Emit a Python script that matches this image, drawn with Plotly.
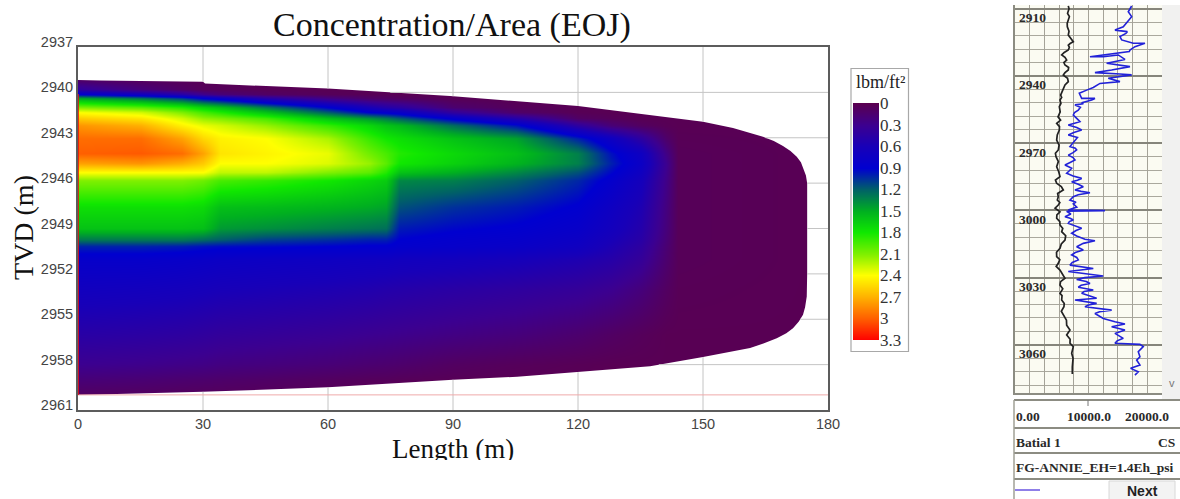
import numpy as np
import plotly.graph_objects as go

W, H = 1180, 499

# ---------- main chart data ----------
title_text = "Concentration/Area (EOJ)"
length_stations = [0, 15, 25, 30, 34, 45, 60, 70, 74, 77, 90, 105, 120, 128, 135, 141, 144, 176]
depth_stations = [2939, 2939.8, 2940.1, 2940.4, 2941, 2941.3, 2941.7, 2942.2, 2943, 2944, 2944.7,
                  2945.3, 2945.8, 2947.6, 2949, 2949.7, 2950.2, 2951, 2953, 2956, 2958, 2959, 2960.5]
col_0 = [.02, .4, .9, 1.5, 2.1, 2.4, 2.6, 2.8, 2.95, 3.0, 2.75, 2.4, 2.1, 1.75, 1.6, 1.3, 1.0, .82, .68, .46, .3, .18, .03]
col_15 = [.02, .2, .7, 1.3, 2.0, 2.3, 2.5, 2.7, 2.95, 3.02, 2.8, 2.4, 2.1, 1.75, 1.6, 1.3, 1.0, .82, .66, .44, .28, .16, .03]
col_25 = [.02, .1, .5, 1.1, 1.85, 2.1, 2.3, 2.45, 2.75, 2.95, 2.7, 2.4, 2.1, 1.75, 1.6, 1.3, .98, .8, .64, .42, .26, .14, .02]
col_30 = [.02, .05, .3, .9, 1.7, 1.95, 2.15, 2.35, 2.55, 2.75, 2.6, 2.4, 2.05, 1.72, 1.58, 1.25, .95, .78, .62, .4, .25, .13, .02]
col_34 = [.02, .05, .2, .8, 1.6, 1.85, 2.1, 2.3, 2.45, 2.5, 2.4, 2.25, 1.95, 1.58, 1.42, 1.2, .93, .76, .6, .38, .23, .12, .02]
col_45 = [.02, .03, .1, .5, 1.3, 1.6, 1.95, 2.15, 2.4, 2.44, 2.4, 2.25, 1.9, 1.56, 1.38, 1.1, .92, .74, .58, .36, .21, .1, .02]
col_60 = [.02, .02, .05, .25, .9, 1.2, 1.6, 1.9, 2.2, 2.35, 2.32, 2.1, 1.8, 1.52, 1.32, 1.05, .9, .72, .55, .33, .18, .07, .02]
col_70 = [.02, .02, .03, .12, .6, .9, 1.4, 1.7, 1.9, 2.05, 2.15, 2.0, 1.7, 1.48, 1.28, 1.0, .88, .7, .52, .3, .15, .05, .02]
col_74 = [.02, .02, .03, .1, .5, .85, 1.3, 1.6, 1.8, 1.95, 2.0, 1.85, 1.65, 1.45, 1.26, 1.0, .88, .7, .5, .29, .14, .05, .02]
col_77 = [.02, .02, .02, .08, .45, .8, 1.2, 1.55, 1.75, 1.85, 1.8, 1.6, 1.35, 1.15, .98, .9, .85, .68, .49, .28, .13, .04, .02]
col_90 = [.02, .02, .02, .03, .15, .4, .85, 1.25, 1.6, 1.72, 1.68, 1.5, 1.32, 1.05, .92, .85, .82, .66, .45, .24, .08, .03, .02]
col_105 = [.02, .02, .02, .02, .05, .12, .5, .95, 1.45, 1.58, 1.52, 1.35, 1.2, .98, .88, .82, .78, .62, .41, .2, .05, .02, .02]
col_120 = [.02, .02, .02, .02, .02, .03, .1, .42, 1.0, 1.32, 1.32, 1.15, 1.02, .88, .8, .74, .7, .55, .36, .14, .03, .02, .02]
col_128 = [.02, .02, .02, .02, .02, .02, .05, .18, .72, .95, 1.0, .92, .84, .72, .66, .6, .56, .48, .3, .09, .02, .02, .02]
col_135 = [.02, .02, .02, .02, .02, .02, .02, .08, .42, .72, .76, .7, .64, .55, .5, .46, .42, .36, .2, .05, .02, .02, .02]
col_141 = [.02, .02, .02, .02, .02, .02, .02, .03, .12, .25, .3, .28, .26, .22, .2, .18, .16, .14, .08, .02, .02, .02, .02]
col_144 = [.02, .02, .02, .02, .02, .02, .02, .02, .03, .04, .04, .04, .04, .04, .04, .04, .04, .04, .03, .02, .02, .02, .02]
col_176 = [.02, .02, .02, .02, .02, .02, .02, .02, .02, .02, .02, .02, .02, .02, .02, .02, .02, .02, .02, .02, .02, .02, .02]
columns = [col_0, col_15, col_25, col_30, col_34, col_45, col_60, col_70, col_74, col_77, col_90,
           col_105, col_120, col_128, col_135, col_141, col_144, col_176]
conc = np.array(columns).T

# outline of the plume
top_len = [0, 5.3, 30, 30.5, 60, 89.3, 120, 131.7, 141, 150, 157.2, 160.8, 164.4, 167, 169.2, 171, 172.5, 173.5, 174, 174.7, 175]
top_depth = [2939.18, 2939.22, 2939.3, 2939.42, 2939.75, 2940.24, 2940.9, 2941.34, 2941.63, 2941.94,
             2942.35, 2942.62, 2942.93, 2943.22, 2943.55, 2943.88, 2944.25, 2944.62, 2945, 2945.5, 2946]
bot_len = [175, 174.9, 174.5, 174, 173, 171.6, 170, 167.7, 164.5, 161.3, 150, 137.3, 120, 105.4, 90, 60, 30, 0]
bot_depth = [2952, 2953.5, 2954.2, 2954.7, 2955.15, 2955.6, 2955.92, 2956.25, 2956.6, 2956.9, 2957.5, 2958.1, 2958.5, 2958.8, 2959, 2959.5, 2959.8, 2960]

x_ticks = [0, 30, 60, 90, 120, 150, 180]
y_ticks = [2937, 2940, 2943, 2946, 2949, 2952, 2955, 2958, 2961]

scale_values = [0, 0.3, 0.6, 0.9, 1.2, 1.5, 1.8, 2.1, 2.4, 2.7, 3, 3.3]
scale_colors = ["#5a0050", "#3c0090", "#1800b8", "#0000d0", "#006068", "#00b020",
                "#10e800", "#80f000", "#ffff00", "#ffb000", "#ff6000", "#ff0000"]
scale_labels = ["0", "0.3", "0.6", "0.9", "1.2", "1.5", "1.8", "2.1", "2.4", "2.7", "3", "3.3"]

# ---------- well-log panel data ----------
blue_depth = [2908.75, 2911.3, 2913.5, 2915.7, 2918, 2919.5, 2920.2, 2921, 2922.4, 2923.9, 2925.4, 2925.4, 2926.9, 2928.4, 2929.1,
              2931.4, 2931.4, 2930.6, 2932.6, 2934.3, 2935.1, 2935.8, 2937.3, 2938.5, 2939.1, 2939.5, 2941, 2942.5, 2943.3, 2945.1, 2946.3, 2947.7, 2950, 2950,
              2950.7, 2951.9, 2952.4, 2952.9, 2954, 2955.2, 2956.3, 2957.4, 2958.9, 2960.4, 2961.1, 2961.9, 2963, 2964.1, 2965.2, 2966.3, 2967.4, 2968.6, 2970, 2971.5, 2972.2, 2973, 2974.2, 2975.3, 2976.4, 2977.5, 2978.6, 2979.7, 2980.5, 2981.2, 2982.3, 2983.4, 2984.6, 2985.7, 2986.5, 2987.2, 2988.3, 2989.4, 2990.2, 2990.9, 2991.5, 2992.1, 2993, 2993.9,
              2995.4, 2996.3, 2997.1, 2998.5, 2999.8, 3000.1, 3000.4, 3001.6, 3002.8, 3003.5, 3004.3, 3005, 3005.8, 3007, 3008, 3009, 3010.2, 3011.4, 3012.9, 3013.5, 3014.7, 3016.2, 3017, 3017.7, 3018.8, 3019.9, 3021, 3022.1, 3023.2, 3024.4, 3025.9, 3026.6, 3027.3, 3029.3, 3030, 3030.8, 3031.7, 3032.6, 3033.4, 3034.3, 3035.5, 3036.2, 3037, 3038, 3039.2,
              3040, 3041.5, 3042.2, 3043, 3044.5, 3045.2, 3046, 3048.2, 3049.7, 3050.7, 3051.9, 3053.4, 3054.9, 3056, 3057.1, 3058.2, 3059.3, 3059.8, 3060.8, 3063.1, 3065.3, 3066.8, 3069, 3070.5, 3072, 3073.5]
blue_value = [15870, 15410, 15870, 15280, 14730, 13600, 15280, 15090, 14280, 14510, 16090, 17680, 16320, 15640, 15550,
              10200, 12010, 14050, 14960, 12470, 14050, 15640, 13150, 10880, 14280, 15870, 12690, 14280, 11560, 10650, 9750, 8750, 9070, 10880,
              10430, 9070, 9300, 8160, 8900, 8610, 8100, 7930, 8400, 8840, 8100, 7250, 8400, 9070, 8000, 7250, 8500, 8160, 7900, 7480, 8200, 8390, 7900, 7250, 7900, 8160, 7500, 6800, 7300, 7710, 7400, 7030, 7900, 9070, 8500, 7710, 8600, 9290, 8700, 8160, 9000, 10200, 8600, 7930,
              7480, 8300, 7930, 8400, 7250, 12240, 7030, 7600, 6800, 7500, 7930, 7400, 7250, 8300, 9070, 8300, 7710, 8390, 9520, 10880, 9290, 8390, 8800, 9290, 8200, 7710, 8400, 8610, 7800, 7480, 10650, 8600, 7250, 12010, 9500, 8390, 9700, 10200, 9000, 8610, 10650, 9400, 9070, 10000, 11110,
              8160, 11110, 10000, 9520, 13150, 11500, 10880, 12010, 13600, 14960, 13150, 14960, 13600, 14200, 14730, 13900, 13600, 17000, 17450, 16770, 17000, 16550, 17000, 15730, 16770, 16320]
black_depth = [2908.7, 2910, 2912, 2913.5, 2915, 2916.5, 2918, 2920, 2921.7, 2923.5, 2924.7, 2925.5, 2926.2, 2927.2, 2928.4, 2929.5, 2930.6, 2931.7, 2932.9, 2934, 2935.1, 2936.2, 2937.3, 2938.5, 2939.6, 2941, 2942.5, 2944, 2945.5, 2947, 2948.5, 2949.6, 2950.7,
               2952.2, 2953.7, 2956, 2958.2, 2959.7, 2961.1, 2962.6, 2964.1, 2966.3, 2968.6, 2970.8, 2973, 2974.5, 2976, 2978.2, 2980.5, 2982.7, 2984.9, 2986.4, 2987.9, 2989.4, 2990.9, 2992.4, 2993.9,
               2995.4, 2996.5, 2997.6, 2999, 3000.6, 3002, 3003.5, 3005, 3006.5, 3008, 3009.5, 3011.3, 3013.2, 3015, 3016.9, 3018.7, 3020.6, 3022, 3023.6, 3025, 3026.6, 3028.4, 3030.3, 3031.8, 3033.3, 3035, 3037, 3038, 3039.2,
               3040, 3041.5, 3043, 3045, 3047.4, 3049, 3051.2, 3053.4, 3055.6, 3057.5, 3059.3, 3060.8, 3063.8, 3066, 3069.8, 3073]
black_value = [7250, 7350, 7150, 7400, 7250, 7100, 7120, 7350, 7250, 7600, 7930, 7500, 7250, 7400, 7250, 6700, 6350, 6800, 7030, 6650, 6800, 7300, 7250, 6800, 6570, 7150, 7250, 6800, 6570, 6350, 6210, 6350, 6120,
               6250, 6030, 6150, 5850, 6200, 5670, 6050, 6030, 5750, 5670, 6000, 5890, 5500, 5580, 5900, 5670, 5950, 6120, 5500, 5670, 6300, 6570, 5800, 5890,
               5760, 6100, 5890, 5450, 6120, 5700, 5670, 6100, 6120, 6500, 6350, 6900, 6800, 6300, 6120, 5650, 5670, 6100, 5890, 5600, 6120, 6500, 6800, 6200, 6120, 6500, 6120, 6400, 6350,
               6350, 6700, 6660, 6300, 6660, 7000, 7030, 7480, 7030, 7500, 7480, 7930, 7710, 7900, 7800, 7800]
track_labels = [2910, 2940, 2970, 3000, 3030, 3060]
scale_row = [("0.00", 1014, "left"), ("10000.0", 1089, "center"), ("20000.0", 1171, "right")]


def px(x):
    return x / W


def py(y):
    return 1 - y / H


colorscale = [[v / 3.3, c] for v, c in zip(scale_values, scale_colors)]
fig = go.Figure()

fig.add_trace(go.Heatmap(x=length_stations, y=depth_stations, z=conc, zmin=0, zmax=3.3,
                         colorscale=colorscale, zsmooth="best", showscale=False,
                         hoverinfo="skip", xaxis="x", yaxis="y"))

# white mask outside the plume outline
mask_x = [0, 180, 180, 0] + bot_len[::-1] + top_len[::-1] + [0]
mask_y = [2937, 2937, 2961, 2961] + bot_depth[::-1] + top_depth[::-1] + [2937]
fig.add_trace(go.Scatter(x=mask_x, y=mask_y, mode="lines", fill="toself", fillcolor="white",
                         line=dict(width=0), hoverinfo="skip", xaxis="x", yaxis="y", showlegend=False))

# grid lines, only outside the plume
gx, gy = [], []
for v in x_ticks[1:-1]:
    t = float(np.interp(v, top_len, top_depth))
    b = float(np.interp(v, bot_len[::-1], bot_depth[::-1]))
    gx += [v, v, None, v, v, None]
    gy += [y_ticks[0], t, None, b, y_ticks[-1], None]
for d in y_ticks[1:-1]:
    if d <= top_depth[-1]:
        s = float(np.interp(d, top_depth, top_len))
    elif d >= bot_depth[0]:
        s = float(np.interp(d, bot_depth, bot_len))
    else:
        s = top_len[-1]
    gx += [s, x_ticks[-1], None]
    gy += [d, d, None]
fig.add_trace(go.Scatter(x=gx, y=gy, mode="lines", line=dict(color="#c4c4c4", width=1),
                         hoverinfo="skip", xaxis="x", yaxis="y", showlegend=False))
fig.add_trace(go.Scatter(x=[0, 180], y=[2960, 2960], mode="lines", line=dict(color="#efabab", width=1),
                         hoverinfo="skip", xaxis="x", yaxis="y", showlegend=False))
fig.add_trace(go.Scatter(x=[0, 0], y=[2940.1, 2960], mode="lines", line=dict(color="#e81010", width=1.6),
                         hoverinfo="skip", xaxis="x", yaxis="y", showlegend=False, cliponaxis=False))

fig.add_trace(go.Heatmap(x=[0, 1], y=scale_values, z=[[v, v] for v in scale_values], zmin=0, zmax=3.3,
                         colorscale=colorscale, zsmooth="best", showscale=False, hoverinfo="skip",
                         xaxis="x2", yaxis="y2"))

fig.add_trace(go.Scatter(x=black_value, y=black_depth, mode="lines", line=dict(color="#222222", width=1.7),
                         hoverinfo="skip", xaxis="x3", yaxis="y3", showlegend=False))
fig.add_trace(go.Scatter(x=blue_value, y=blue_depth, mode="lines", line=dict(color="#2222d8", width=1.6),
                         hoverinfo="skip", xaxis="x3", yaxis="y3", showlegend=False))

tick_font = dict(family="Liberation Sans", size=14.5, color="#444444")
serif = "Liberation Serif"
bold_font = dict(family=serif, size=13.5, color="#2a2a2a")

annotations = [
    dict(text=title_text, x=px(452), y=py(25), font=dict(family=serif, size=34, color="#111111")),
    dict(text="TVD (m)", x=px(23), y=py(228), textangle=-90, font=dict(family=serif, size=28, color="#111111")),
    dict(text="Length (m)", x=px(453), y=py(432), yanchor="top", height=26, valign="top",
         font=dict(family=serif, size=27, color="#111111")),
    dict(text="lbm/ft²", x=px(880), y=py(82), font=dict(family=serif, size=18, color="#222222")),
    dict(text="<b>Batial 1</b>", x=px(1014), y=py(442), xanchor="left", font=bold_font),
    dict(text="<b>CS</b>", x=px(1177), y=py(442), xanchor="right", font=bold_font),
    dict(text="<b>FG-ANNIE_EH=1.4Eh_psi</b>", x=px(1014), y=py(467), xanchor="left",
         font=dict(family=serif, size=13.5, color="#2a2a2a")),
    dict(text="<b>Next</b>", x=px(1142), y=py(491), font=dict(family="Liberation Sans", size=14, color="#222222")),
    dict(text="v", x=px(1172), y=py(383), font=dict(family="Liberation Sans", size=11, color="#777777")),
]
for t, x, anchor in scale_row:
    annotations.append(dict(text=f"<b>{t}</b>", x=px(x), y=py(416), xanchor=anchor, font=bold_font))
for d in track_labels:
    annotations.append(dict(text=f"<b>{d}</b>", xref="x3", yref="y3", x=300, y=d + 4, xanchor="left",
                            font=dict(family=serif, size=13.5, color="#2a2a2a")))
for a in annotations:
    a.setdefault("xref", "paper")
    a.setdefault("yref", "paper")
    a.setdefault("xanchor", "center")
    a.setdefault("yanchor", "middle")
    a["showarrow"] = False


def rect(x0, y0, x1, y1, **kw):
    return dict(type="rect", xref="paper", yref="paper", x0=px(x0), x1=px(x1), y0=py(y0), y1=py(y1), **kw)


def hline(x0, x1, y, color="#8c8c82", width=2):
    return dict(type="line", xref="paper", yref="paper", x0=px(x0), x1=px(x1), y0=py(y), y1=py(y),
                line=dict(color=color, width=width))


shapes = [
    rect(1015, 5, 1162, 393, line=dict(width=0), fillcolor="#fbfbf2", layer="below"),
    rect(851, 68.5, 908.5, 351.5, line=dict(color="#a8a8a8", width=1.2), fillcolor="rgba(0,0,0,0)"),
    rect(1162, 5, 1180, 400, line=dict(width=0), fillcolor="#f1f1f0", layer="below"),
    hline(1014, 1180, 400), hline(1014, 1180, 428), hline(1014, 1180, 453), hline(1014, 1180, 479),
    dict(type="line", xref="paper", yref="paper", x0=px(1014), x1=px(1014), y0=py(400), y1=py(499),
         line=dict(color="#a0a096", width=1.5)),
    dict(type="line", xref="paper", yref="paper", x0=px(1088), x1=px(1088), y0=py(400), y1=py(406),
         line=dict(color="#777777", width=1)),
    hline(1015, 1040, 490, color="#6a55e0", width=1.5),
    rect(1109, 481, 1175, 500, line=dict(color="#d8d8d8", width=1), fillcolor="#f3f3f3"),
]

frame = dict(showline=True, mirror=True, linecolor="#5c5c5c", linewidth=2, showgrid=False, zeroline=False,
             ticks="", tickfont=tick_font, automargin=False)

fig.update_layout(
    template="none",
    width=W, height=H, margin=dict(l=0, r=0, t=0, b=0, pad=0), autosize=False,
    paper_bgcolor="white", plot_bgcolor="rgba(0,0,0,0)", showlegend=False,
    xaxis=dict(domain=[px(78), px(828)], range=[0, 180], tickvals=x_ticks, anchor="y", **frame),
    yaxis=dict(domain=[py(410), py(47)], range=[2961, 2937], tickvals=y_ticks, anchor="x",
               tickformat="d", ticklabelshift=5, **frame),
    xaxis2=dict(domain=[px(853), px(879)], range=[0, 1], visible=False, anchor="y2", automargin=False),
    yaxis2=dict(domain=[py(340), py(103)], range=[3.3, 0], anchor="x2", side="right", tickvals=scale_values,
                ticktext=scale_labels, showgrid=False, zeroline=False, showline=False, ticks="", automargin=False,
                tickfont=dict(family=serif, size=17, color="#333333")),
    xaxis3=dict(domain=[px(1015), px(1162)], range=[0, 20000], dtick=2000, anchor="y3", automargin=False,
                showticklabels=False, ticks="", showgrid=True, gridcolor="#a5a398", gridwidth=1.4, zeroline=False,
                showline=True, mirror=False, linecolor="#8c8c82", linewidth=1.5),
    yaxis3=dict(domain=[py(393), py(5)], range=[3081.5, 2908.3], tick0=2910, dtick=30, anchor="x3", automargin=False,
                showticklabels=False, ticks="", showgrid=True, gridcolor="#86857b", gridwidth=2, zeroline=False,
                minor=dict(tick0=2910, dtick=6, showgrid=True, gridcolor="#aaa89d", gridwidth=1.4, ticks=""),
                showline=True, mirror=False, linecolor="#8c8c82", linewidth=1.5),
    annotations=annotations, shapes=shapes,
)

fig.write_html("out.html", config={"displayModeBar": False},
               post_script="document.body.style.margin='0';")
